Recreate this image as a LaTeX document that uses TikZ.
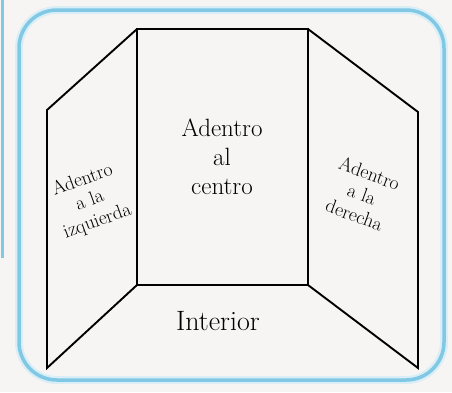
\documentclass[tikz,border=0pt]{standalone}
\usetikzlibrary{calc}
\definecolor{framecol}{RGB}{128,200,228}
\definecolor{paper}{RGB}{247,245,243}
\tikzset{
  panel/.style={line width=1.9pt, line join=miter},
  paneltext/.style={align=center, inner sep=0pt, font=\fontsize{19.5}{22}\selectfont},
}

\begin{document}
\begin{tikzpicture}[x=1pt,y=-1pt]
  \useasboundingbox (0,0) rectangle (452,392);
  \fill[paper] (0,0) rectangle (452,392);
  %FRAME
  \draw[framecol!30, line width=8pt, rounded corners=38pt] (19,10) rectangle (444,380);
  \draw[framecol, line width=3.5pt, rounded corners=38pt] (19,10) rectangle (444,380);
  \draw[framecol, line width=3pt] (2,0) -- (2,258);

  %PANELS
  \coordinate (ctl) at (137,29);
  \coordinate (ctr) at (308,29);
  \coordinate (cbl) at (137,285);
  \coordinate (cbr) at (308,285);
  \coordinate (ltl) at (47,110);
  \coordinate (lbl) at (47,368);
  \coordinate (rtr) at (418,112);
  \coordinate (rbr) at (418,368);
  \draw[panel] (ctl) rectangle (cbr);
  \draw[panel] (ctl) -- (ltl) -- (lbl) -- (cbl);
  \draw[panel] (ctr) -- (rtr) -- (rbr) -- (cbr);

  %TEXTS
  \node[paneltext, font=\fontsize{25}{29}\selectfont] (centro) at (222,157) {Adentro\\al\\centro};
  \node[paneltext, rotate=20] (izq) at (90,201) {Adentro\\a la\\izquierda};
  \node[paneltext, rotate=-20] (der) at (362,194) {Adentro\\a la\\derecha};
  \node[paneltext, font=\fontsize{28}{32}\selectfont] (interior) at (218,321) {Interior};
\end{tikzpicture}
\end{document}
